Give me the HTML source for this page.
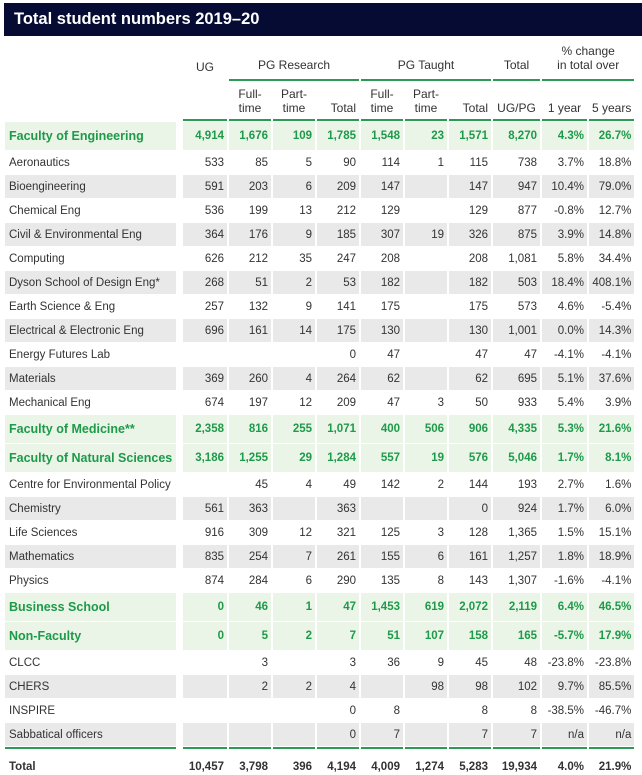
<!DOCTYPE html>
<html><head><meta charset="utf-8"><style>
body{margin:0;width:642px;height:775px;background:#fff;font-family:"Liberation Sans",sans-serif;color:#333;overflow:hidden;position:relative}
.bar{position:absolute;left:4px;top:3px;width:638px;height:33px;background:#050b33;color:#fff;font-weight:bold;font-size:16.5px;line-height:33px;padding-left:10px;box-sizing:border-box}
table{position:absolute;left:3px;top:37px;border-collapse:separate;border-spacing:2px 1px;table-layout:fixed;font-size:11.5px}
td{padding:0 3px;text-align:right;white-space:nowrap;overflow:visible}
td:first-child{text-align:left;padding-left:4px}
tr.h1 td{height:34px;vertical-align:bottom;padding-bottom:7px;text-align:center;font-size:12px;line-height:14px}
tr.h2 td{height:33px;text-align:center;font-size:12px;line-height:14px;vertical-align:bottom;padding-bottom:4px}
.gl{border-bottom:2px solid #2a9a55}
tr.r td{height:23px}
tr.g td{background:#e9e9e9}
tr.g td.e{background:transparent}
tr.f td{height:28px;background:#eaf5e7;color:#1e9a4a;font-weight:bold}
tr.f td:first-child{font-size:12.5px}
tr.f td.e{background:transparent}
tr.t td{height:24px;font-weight:bold;border-top:2px solid #2a9a55;vertical-align:bottom;padding-bottom:1px}
tr.t td.e{border-top:none}
.e{padding:0}
</style></head><body>
<div class="bar">Total student numbers 2019–20</div>
<table>
<colgroup><col style="width:171px"><col style="width:3px"><col style="width:44px"><col style="width:42px"><col style="width:42px"><col style="width:42px"><col style="width:42px"><col style="width:42px"><col style="width:42px"><col style="width:47px"><col style="width:45px"><col style="width:42px"></colgroup>
<tr class="h1"><td></td><td class="e"></td><td>UG</td><td colspan="3" class="gl">PG Research</td><td colspan="3" class="gl">PG Taught</td><td class="gl">Total</td><td colspan="2" class="gl">% change<br>in total over</td></tr>
<tr class="h2"><td></td><td class="e"></td><td class="gl"></td><td class="gl">Full-<br>time</td><td class="gl">Part-<br>time</td><td class="gl" style="text-align:right">Total</td><td class="gl">Full-<br>time</td><td class="gl">Part-<br>time</td><td class="gl" style="text-align:right">Total</td><td class="gl">UG/PG</td><td class="gl">1 year</td><td class="gl">5 years</td></tr>
<tr class="f"><td>Faculty of Engineering</td><td class="e"></td><td>4,914</td><td>1,676</td><td>109</td><td>1,785</td><td>1,548</td><td>23</td><td>1,571</td><td>8,270</td><td>4.3%</td><td>26.7%</td></tr>
<tr class="r"><td>Aeronautics</td><td class="e"></td><td>533</td><td>85</td><td>5</td><td>90</td><td>114</td><td>1</td><td>115</td><td>738</td><td>3.7%</td><td>18.8%</td></tr>
<tr class="r g"><td>Bioengineering</td><td class="e"></td><td>591</td><td>203</td><td>6</td><td>209</td><td>147</td><td></td><td>147</td><td>947</td><td>10.4%</td><td>79.0%</td></tr>
<tr class="r"><td>Chemical Eng</td><td class="e"></td><td>536</td><td>199</td><td>13</td><td>212</td><td>129</td><td></td><td>129</td><td>877</td><td>-0.8%</td><td>12.7%</td></tr>
<tr class="r g"><td>Civil &amp; Environmental Eng</td><td class="e"></td><td>364</td><td>176</td><td>9</td><td>185</td><td>307</td><td>19</td><td>326</td><td>875</td><td>3.9%</td><td>14.8%</td></tr>
<tr class="r"><td>Computing</td><td class="e"></td><td>626</td><td>212</td><td>35</td><td>247</td><td>208</td><td></td><td>208</td><td>1,081</td><td>5.8%</td><td>34.4%</td></tr>
<tr class="r g"><td>Dyson School of Design Eng*</td><td class="e"></td><td>268</td><td>51</td><td>2</td><td>53</td><td>182</td><td></td><td>182</td><td>503</td><td>18.4%</td><td>408.1%</td></tr>
<tr class="r"><td>Earth Science &amp; Eng</td><td class="e"></td><td>257</td><td>132</td><td>9</td><td>141</td><td>175</td><td></td><td>175</td><td>573</td><td>4.6%</td><td>-5.4%</td></tr>
<tr class="r g"><td>Electrical &amp; Electronic Eng</td><td class="e"></td><td>696</td><td>161</td><td>14</td><td>175</td><td>130</td><td></td><td>130</td><td>1,001</td><td>0.0%</td><td>14.3%</td></tr>
<tr class="r"><td>Energy Futures Lab</td><td class="e"></td><td></td><td></td><td></td><td>0</td><td>47</td><td></td><td>47</td><td>47</td><td>-4.1%</td><td>-4.1%</td></tr>
<tr class="r g"><td>Materials</td><td class="e"></td><td>369</td><td>260</td><td>4</td><td>264</td><td>62</td><td></td><td>62</td><td>695</td><td>5.1%</td><td>37.6%</td></tr>
<tr class="r"><td>Mechanical Eng</td><td class="e"></td><td>674</td><td>197</td><td>12</td><td>209</td><td>47</td><td>3</td><td>50</td><td>933</td><td>5.4%</td><td>3.9%</td></tr>
<tr class="f"><td>Faculty of Medicine**</td><td class="e"></td><td>2,358</td><td>816</td><td>255</td><td>1,071</td><td>400</td><td>506</td><td>906</td><td>4,335</td><td>5.3%</td><td>21.6%</td></tr>
<tr class="f"><td>Faculty of Natural Sciences</td><td class="e"></td><td>3,186</td><td>1,255</td><td>29</td><td>1,284</td><td>557</td><td>19</td><td>576</td><td>5,046</td><td>1.7%</td><td>8.1%</td></tr>
<tr class="r"><td>Centre for Environmental Policy</td><td class="e"></td><td></td><td>45</td><td>4</td><td>49</td><td>142</td><td>2</td><td>144</td><td>193</td><td>2.7%</td><td>1.6%</td></tr>
<tr class="r g"><td>Chemistry</td><td class="e"></td><td>561</td><td>363</td><td></td><td>363</td><td></td><td></td><td>0</td><td>924</td><td>1.7%</td><td>6.0%</td></tr>
<tr class="r"><td>Life Sciences</td><td class="e"></td><td>916</td><td>309</td><td>12</td><td>321</td><td>125</td><td>3</td><td>128</td><td>1,365</td><td>1.5%</td><td>15.1%</td></tr>
<tr class="r g"><td>Mathematics</td><td class="e"></td><td>835</td><td>254</td><td>7</td><td>261</td><td>155</td><td>6</td><td>161</td><td>1,257</td><td>1.8%</td><td>18.9%</td></tr>
<tr class="r"><td>Physics</td><td class="e"></td><td>874</td><td>284</td><td>6</td><td>290</td><td>135</td><td>8</td><td>143</td><td>1,307</td><td>-1.6%</td><td>-4.1%</td></tr>
<tr class="f"><td>Business School</td><td class="e"></td><td>0</td><td>46</td><td>1</td><td>47</td><td>1,453</td><td>619</td><td>2,072</td><td>2,119</td><td>6.4%</td><td>46.5%</td></tr>
<tr class="f"><td>Non-Faculty</td><td class="e"></td><td>0</td><td>5</td><td>2</td><td>7</td><td>51</td><td>107</td><td>158</td><td>165</td><td>-5.7%</td><td>17.9%</td></tr>
<tr class="r"><td>CLCC</td><td class="e"></td><td></td><td>3</td><td></td><td>3</td><td>36</td><td>9</td><td>45</td><td>48</td><td>-23.8%</td><td>-23.8%</td></tr>
<tr class="r g"><td>CHERS</td><td class="e"></td><td></td><td>2</td><td>2</td><td>4</td><td></td><td>98</td><td>98</td><td>102</td><td>9.7%</td><td>85.5%</td></tr>
<tr class="r"><td>INSPIRE</td><td class="e"></td><td></td><td></td><td></td><td>0</td><td>8</td><td></td><td>8</td><td>8</td><td>-38.5%</td><td>-46.7%</td></tr>
<tr class="r g"><td>Sabbatical officers</td><td class="e"></td><td></td><td></td><td></td><td>0</td><td>7</td><td></td><td>7</td><td>7</td><td>n/a</td><td>n/a</td></tr>
<tr class="t"><td>Total</td><td class="e"></td><td>10,457</td><td>3,798</td><td>396</td><td>4,194</td><td>4,009</td><td>1,274</td><td>5,283</td><td>19,934</td><td>4.0%</td><td>21.9%</td></tr>
</table>
</body></html>
